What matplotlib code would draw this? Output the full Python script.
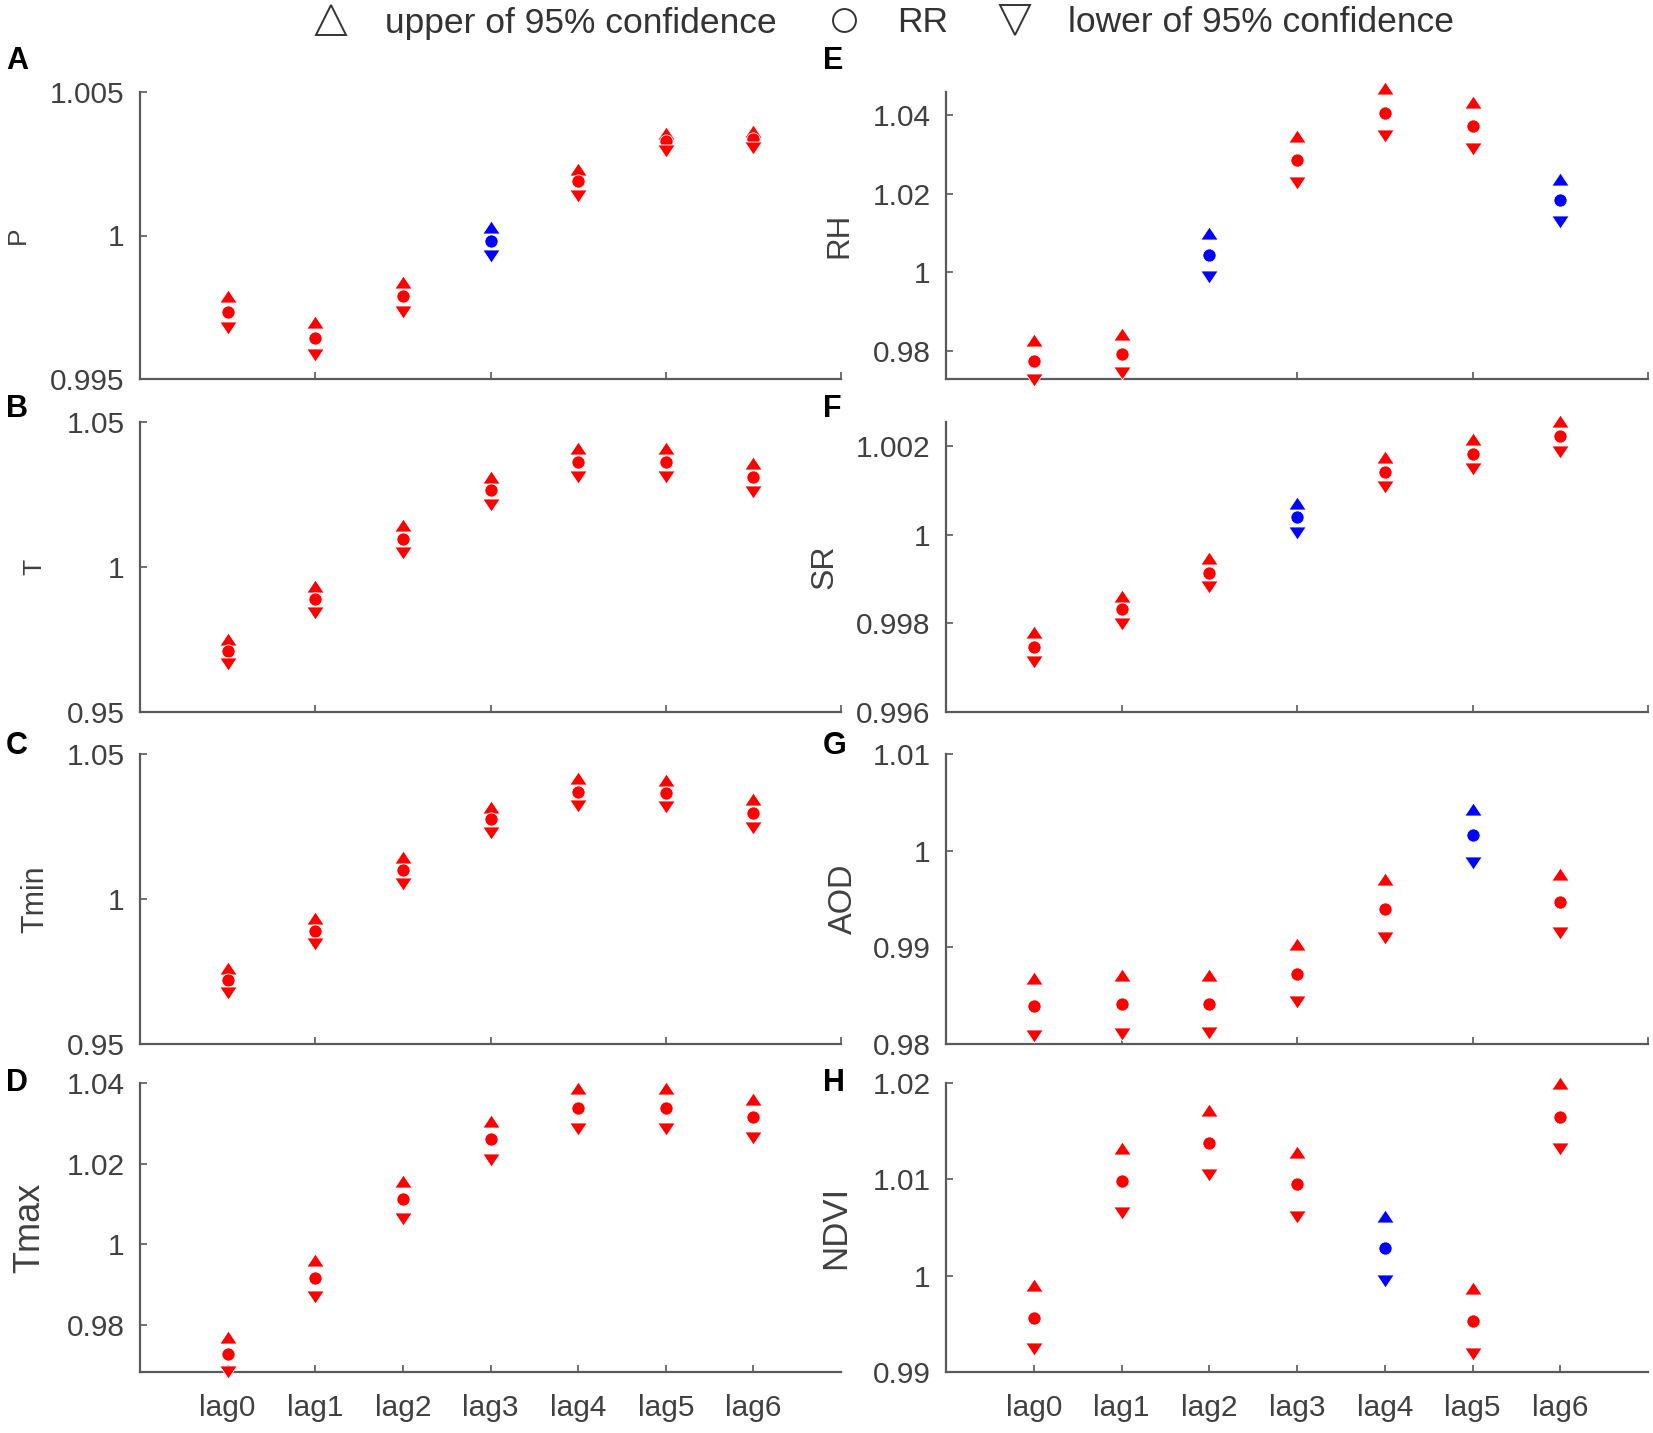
import matplotlib
matplotlib.use("Agg")
import matplotlib.pyplot as plt
from matplotlib.lines import Line2D
from matplotlib.path import Path
from matplotlib.ticker import FuncFormatter

plt.rcParams['font.family'] = ['Liberation Sans', 'DejaVu Sans']

lags = ["lag0", "lag1", "lag2", "lag3", "lag4", "lag5", "lag6"]

# Panel data: upper CI, RR, lower CI
P_up = [0.9979, 0.9970, 0.99837, 1.00031, 1.00233, 1.00357, 1.00364]
P_rr = [0.99734, 0.99643, 0.9979, 0.99982, 1.00189, 1.00328, 1.00335]
P_lo = [0.99676, 0.99584, 0.99734, 0.9993, 1.00137, 1.00295, 1.00306]
P_col = ["r", "r", "r", "b", "r", "r", "r"]

T_up = [0.9751, 0.9936, 1.0144, 1.0311, 1.0409, 1.0409, 1.0358]
T_rr = [0.9711, 0.9889, 1.0096, 1.0267, 1.0362, 1.0362, 1.0311]
T_lo = [0.9664, 0.9842, 1.0049, 1.0213, 1.0311, 1.0311, 1.0260]
T_col = ["r"] * 7

Tmin_up = [0.9762, 0.9933, 1.0144, 1.0318, 1.0416, 1.0409, 1.0344]
Tmin_rr = [0.9722, 0.9889, 1.0100, 1.0275, 1.0369, 1.0365, 1.0296]
Tmin_lo = [0.9675, 0.9845, 1.0053, 1.0227, 1.0322, 1.0316, 1.0245]
Tmin_col = ["r"] * 7

Tmax_up = [0.9771, 0.9961, 1.0158, 1.0306, 1.0387, 1.0387, 1.0361]
Tmax_rr = [0.9727, 0.9917, 1.0112, 1.0260, 1.0338, 1.0338, 1.0315]
Tmax_lo = [0.9683, 0.9870, 1.0063, 1.0208, 1.0285, 1.0285, 1.0263]
Tmax_col = ["r"] * 7

RH_up = [0.9827, 0.9843, 1.0099, 1.0346, 1.0468, 1.0433, 1.0237]
RH_rr = [0.9773, 0.9791, 1.0043, 1.0285, 1.0405, 1.0373, 1.0184]
RH_lo = [0.9725, 0.9743, 0.9989, 1.0227, 1.0346, 1.0314, 1.0127]
RH_col = ["r", "r", "b", "r", "r", "r", "b"]

SR_up = [0.99781, 0.99862, 0.99948, 1.00073, 1.00176, 1.00217, 1.00257]
SR_rr = [0.99747, 0.99833, 0.99915, 1.0004, 1.00143, 1.00183, 1.00224]
SR_lo = [0.99712, 0.99798, 0.99882, 1.00005, 1.00108, 1.00148, 1.00188]
SR_col = ["r", "r", "r", "b", "r", "r", "r"]

AOD_up = [0.98684, 0.98716, 0.98716, 0.99033, 0.99706, 1.00436, 0.9976]
AOD_rr = [0.98393, 0.98412, 0.98412, 0.98727, 0.9940, 1.00164, 0.99466]
AOD_lo = [0.98087, 0.98106, 0.98115, 0.98433, 0.99098, 0.99869, 0.99153]
AOD_col = ["r", "r", "r", "r", "r", "b", "r"]

NDVI_up = [0.99902, 1.01327, 1.01716, 1.01287, 1.00622, 0.99869, 1.0200]
NDVI_rr = [0.99564, 1.00978, 1.01378, 1.00949, 1.00284, 0.99531, 1.0165]
NDVI_lo = [0.9924, 1.00651, 1.0104, 1.00611, 0.99946, 0.99185, 1.01313]
NDVI_col = ["r", "r", "r", "r", "b", "r", "r"]

panels = [
    ("A", "P", P_up, P_rr, P_lo, P_col, (0.995, 1.005), [0.995, 1, 1.005]),
    ("B", "T", T_up, T_rr, T_lo, T_col, (0.95, 1.05), [0.95, 1, 1.05]),
    ("C", "Tmin", Tmin_up, Tmin_rr, Tmin_lo, Tmin_col, (0.95, 1.05), [0.95, 1, 1.05]),
    ("D", "Tmax", Tmax_up, Tmax_rr, Tmax_lo, Tmax_col, (0.9683, 1.04), [0.98, 1, 1.02, 1.04]),
    ("E", "RH", RH_up, RH_rr, RH_lo, RH_col, (0.9728, 1.0459), [0.98, 1, 1.02, 1.04]),
    ("F", "SR", SR_up, SR_rr, SR_lo, SR_col, (0.996, 1.00255), [0.996, 0.998, 1, 1.002]),
    ("G", "AOD", AOD_up, AOD_rr, AOD_lo, AOD_col, (0.98, 1.01), [0.98, 0.99, 1, 1.01]),
    ("H", "NDVI", NDVI_up, NDVI_rr, NDVI_lo, NDVI_col, (0.99, 1.02), [0.99, 1, 1.01, 1.02]),
]
label_sizes = [19, 19, 22, 26, 22.5, 23, 23.5, 25]
label_x = [-0.157, -0.133, -0.128, -0.132, -0.131, -0.151, -0.124, -0.134]

W, H = 1653, 1433
fig = plt.figure(figsize=(W / 100, H / 100), dpi=100)

col_x = [(140, 841), (946, 1648)]
row_y = [(92, 379), (422, 712), (754, 1044), (1083, 1372)]
letter_y = [61, 409, 746, 1083]
colmap = {"r": "#ff0000", "b": "#0000ff"}
gray = "#404040"
xs = list(range(1, 8))

up_tri = Path([(-1, -0.75), (1, -0.75), (0, 0.75), (-1, -0.75)],
              [Path.MOVETO, Path.LINETO, Path.LINETO, Path.CLOSEPOLY])
dn_tri = Path([(-1, 0.75), (1, 0.75), (0, -0.75), (-1, 0.75)],
              [Path.MOVETO, Path.LINETO, Path.LINETO, Path.CLOSEPOLY])

for i, (letter, ylab, up, rr, lo, cols, ylim, yt) in enumerate(panels):
    c, r = divmod(i, 4)
    x0, x1 = col_x[c]
    y0, y1 = row_y[r]
    ax = fig.add_axes([x0 / W, 1 - y1 / H, (x1 - x0) / W, (y1 - y0) / H])
    for x, u, m, l, cc in zip(xs, up, rr, lo, cols):
        color = colmap[cc]
        kw = dict(color=color, markeredgecolor="white", markeredgewidth=0.6,
                  linestyle="none", clip_on=False, zorder=3)
        ax.plot([x], [u], marker=up_tri, markersize=12.5, **kw)
        ax.plot([x], [m], marker="o", markersize=9.5, **kw)
        ax.plot([x], [l], marker=dn_tri, markersize=12.5, **kw)
    ax.set_xlim(0, 8)
    ax.set_ylim(*ylim)
    ax.set_yticks(yt)
    ax.yaxis.set_major_formatter(FuncFormatter(lambda v, p: "%g" % round(v, 6)))
    if r == 3:
        ax.set_xticks(xs)
        ax.set_xticklabels(lags)
    else:
        ax.set_xticks([0, 2, 4, 6, 8])
        ax.set_xticklabels([])
    for s in ("top", "right"):
        ax.spines[s].set_visible(False)
    for s in ("left", "bottom"):
        ax.spines[s].set_color("#5a5a5a")
        ax.spines[s].set_linewidth(1.6)
    ax.tick_params(direction="in", length=5, width=1.2, colors="#5a5a5a",
                   labelcolor=gray, labelsize=21.5, pad=11)
    ax.tick_params(axis="x", pad=16)
    ax.set_ylabel(ylab, fontsize=label_sizes[i], color=gray)
    ax.yaxis.set_label_coords(label_x[i], 0.5)
    lx = 6 if c == 0 else 823
    fig.text(lx / W, 1 - letter_y[r] / H, letter, fontsize=22, fontweight="bold",
             va="center", ha="left", color="black")

hkw = dict(linestyle="none", markerfacecolor="none", markeredgecolor="#333333",
           markeredgewidth=1.4)
handles = [
    Line2D([], [], marker="^", markersize=21, **hkw),
    Line2D([], [], marker="o", markersize=16.5, **hkw),
    Line2D([], [], marker="v", markersize=21, **hkw),
]
fig.legend(handles, ["upper of 95% confidence", "RR", "lower of 95% confidence"],
           loc="center", bbox_to_anchor=(884 / W, 1 - 23 / H), ncol=3, frameon=False,
           fontsize=25.5, handlelength=1.0, handletextpad=1.0, columnspacing=1.4,
           labelcolor="#333333")

fig.savefig("out.png", dpi=100, facecolor="white")
